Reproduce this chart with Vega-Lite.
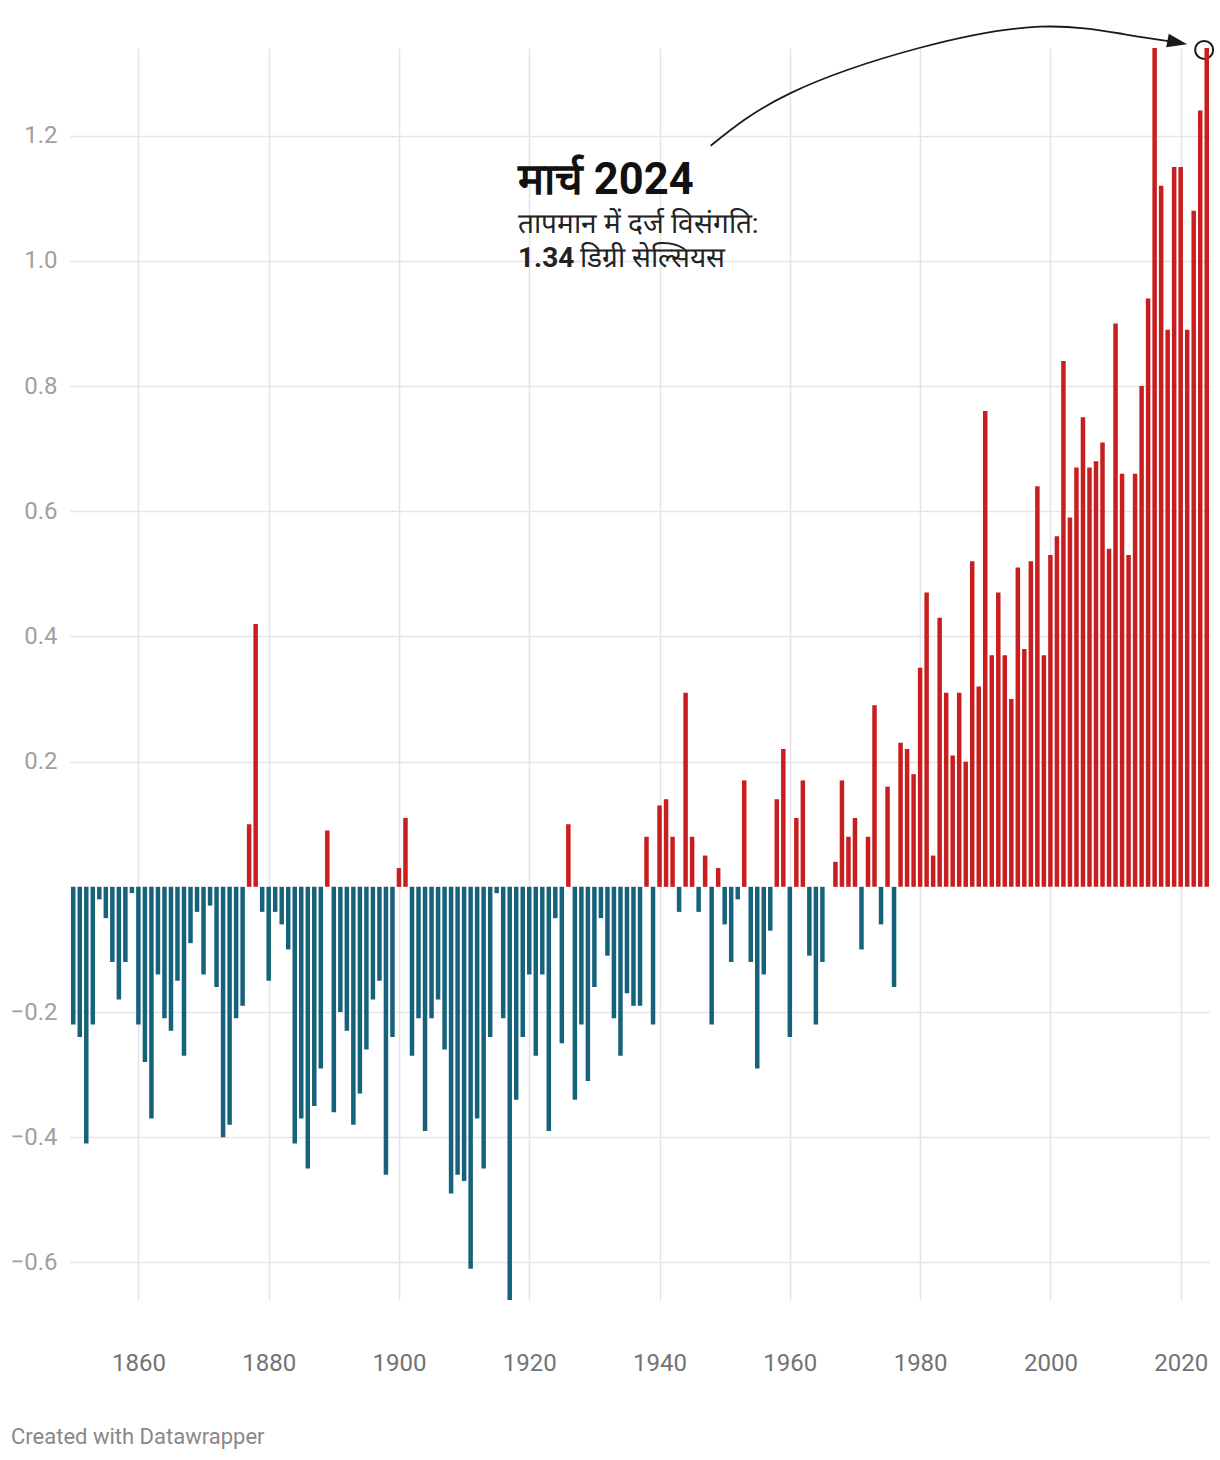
{
  "$schema": "https://vega.github.io/schema/vega-lite/v6.json",
  "width": 1140,
  "height": 1252,
  "autosize": {"type": "none"},
  "padding": {"left": 70, "top": 48, "right": 10, "bottom": 160},
  "background": "white",
  "config": {"font": "Roboto", "view": {"stroke": null}},
  "title": {
    "text": "Created with Datawrapper",
    "orient": "bottom",
    "anchor": "start",
    "frame": "group",
    "dx": -59,
    "offset": 52,
    "fontSize": 22,
    "fontWeight": "normal",
    "color": "#888888"
  },
  "datasets": {
    "temps": [
      {"year":1850,"value":-0.22},{"year":1851,"value":-0.24},{"year":1852,"value":-0.41},{"year":1853,"value":-0.22},{"year":1854,"value":-0.02},
      {"year":1855,"value":-0.05},{"year":1856,"value":-0.12},{"year":1857,"value":-0.18},{"year":1858,"value":-0.12},{"year":1859,"value":-0.01},
      {"year":1860,"value":-0.22},{"year":1861,"value":-0.28},{"year":1862,"value":-0.37},{"year":1863,"value":-0.14},{"year":1864,"value":-0.21},
      {"year":1865,"value":-0.23},{"year":1866,"value":-0.15},{"year":1867,"value":-0.27},{"year":1868,"value":-0.09},{"year":1869,"value":-0.04},
      {"year":1870,"value":-0.14},{"year":1871,"value":-0.03},{"year":1872,"value":-0.16},{"year":1873,"value":-0.40},{"year":1874,"value":-0.38},
      {"year":1875,"value":-0.21},{"year":1876,"value":-0.19},{"year":1877,"value":0.10},{"year":1878,"value":0.42},{"year":1879,"value":-0.04},
      {"year":1880,"value":-0.15},{"year":1881,"value":-0.04},{"year":1882,"value":-0.06},{"year":1883,"value":-0.10},{"year":1884,"value":-0.41},
      {"year":1885,"value":-0.37},{"year":1886,"value":-0.45},{"year":1887,"value":-0.35},{"year":1888,"value":-0.29},{"year":1889,"value":0.09},
      {"year":1890,"value":-0.36},{"year":1891,"value":-0.20},{"year":1892,"value":-0.23},{"year":1893,"value":-0.38},{"year":1894,"value":-0.33},
      {"year":1895,"value":-0.26},{"year":1896,"value":-0.18},{"year":1897,"value":-0.15},{"year":1898,"value":-0.46},{"year":1899,"value":-0.24},
      {"year":1900,"value":0.03},{"year":1901,"value":0.11},{"year":1902,"value":-0.27},{"year":1903,"value":-0.21},{"year":1904,"value":-0.39},
      {"year":1905,"value":-0.21},{"year":1906,"value":-0.18},{"year":1907,"value":-0.26},{"year":1908,"value":-0.49},{"year":1909,"value":-0.46},
      {"year":1910,"value":-0.47},{"year":1911,"value":-0.61},{"year":1912,"value":-0.37},{"year":1913,"value":-0.45},{"year":1914,"value":-0.24},
      {"year":1915,"value":-0.01},{"year":1916,"value":-0.21},{"year":1917,"value":-0.66},{"year":1918,"value":-0.34},{"year":1919,"value":-0.24},
      {"year":1920,"value":-0.14},{"year":1921,"value":-0.27},{"year":1922,"value":-0.14},{"year":1923,"value":-0.39},{"year":1924,"value":-0.05},
      {"year":1925,"value":-0.25},{"year":1926,"value":0.10},{"year":1927,"value":-0.34},{"year":1928,"value":-0.22},{"year":1929,"value":-0.31},
      {"year":1930,"value":-0.16},{"year":1931,"value":-0.05},{"year":1932,"value":-0.11},{"year":1933,"value":-0.21},{"year":1934,"value":-0.27},
      {"year":1935,"value":-0.17},{"year":1936,"value":-0.19},{"year":1937,"value":-0.19},{"year":1938,"value":0.08},{"year":1939,"value":-0.22},
      {"year":1940,"value":0.13},{"year":1941,"value":0.14},{"year":1942,"value":0.08},{"year":1943,"value":-0.04},{"year":1944,"value":0.31},
      {"year":1945,"value":0.08},{"year":1946,"value":-0.04},{"year":1947,"value":0.05},{"year":1948,"value":-0.22},{"year":1949,"value":0.03},
      {"year":1950,"value":-0.06},{"year":1951,"value":-0.12},{"year":1952,"value":-0.02},{"year":1953,"value":0.17},{"year":1954,"value":-0.12},
      {"year":1955,"value":-0.29},{"year":1956,"value":-0.14},{"year":1957,"value":-0.07},{"year":1958,"value":0.14},{"year":1959,"value":0.22},
      {"year":1960,"value":-0.24},{"year":1961,"value":0.11},{"year":1962,"value":0.17},{"year":1963,"value":-0.11},{"year":1964,"value":-0.22},
      {"year":1965,"value":-0.12},{"year":1966,"value":0.00},{"year":1967,"value":0.04},{"year":1968,"value":0.17},{"year":1969,"value":0.08},
      {"year":1970,"value":0.11},{"year":1971,"value":-0.10},{"year":1972,"value":0.08},{"year":1973,"value":0.29},{"year":1974,"value":-0.06},
      {"year":1975,"value":0.16},{"year":1976,"value":-0.16},{"year":1977,"value":0.23},{"year":1978,"value":0.22},{"year":1979,"value":0.18},
      {"year":1980,"value":0.35},{"year":1981,"value":0.47},{"year":1982,"value":0.05},{"year":1983,"value":0.43},{"year":1984,"value":0.31},
      {"year":1985,"value":0.21},{"year":1986,"value":0.31},{"year":1987,"value":0.20},{"year":1988,"value":0.52},{"year":1989,"value":0.32},
      {"year":1990,"value":0.76},{"year":1991,"value":0.37},{"year":1992,"value":0.47},{"year":1993,"value":0.37},{"year":1994,"value":0.30},
      {"year":1995,"value":0.51},{"year":1996,"value":0.38},{"year":1997,"value":0.52},{"year":1998,"value":0.64},{"year":1999,"value":0.37},
      {"year":2000,"value":0.53},{"year":2001,"value":0.56},{"year":2002,"value":0.84},{"year":2003,"value":0.59},{"year":2004,"value":0.67},
      {"year":2005,"value":0.75},{"year":2006,"value":0.67},{"year":2007,"value":0.68},{"year":2008,"value":0.71},{"year":2009,"value":0.54},
      {"year":2010,"value":0.90},{"year":2011,"value":0.66},{"year":2012,"value":0.53},{"year":2013,"value":0.66},{"year":2014,"value":0.80},
      {"year":2015,"value":0.94},{"year":2016,"value":1.34},{"year":2017,"value":1.12},{"year":2018,"value":0.89},{"year":2019,"value":1.15},
      {"year":2020,"value":1.15},{"year":2021,"value":0.89},{"year":2022,"value":1.08},{"year":2023,"value":1.24},{"year":2024,"value":1.34}
    ],
    "marker": [{"year": 2023.6, "value": 1.337}],
    "arrow": [
      {"year": 1947.85, "value": 1.1839},
      {"year": 1960.03, "value": 1.2676},
      {"year": 1979.98, "value": 1.3404},
      {"year": 1998.40, "value": 1.3740},
      {"year": 2011.19, "value": 1.3623},
      {"year": 2019.48, "value": 1.3490}
    ],
    "arrowhead": [{"year": 2019.48, "value": 1.3490}],
    "headline": [{"year": 1918.27, "value": 1.107, "text": "मार्च 2024"}],
    "subline": [
      {"year": 1918.27, "value": 1.0444, "text": "तापमान में दर्ज विसंगति:"},
      {"year": 1927.8, "value": 0.990, "text": "डिग्री सेल्सियस"}
    ],
    "boldnum": [{"year": 1918.27, "value": 0.990, "text": "1.34"}]
  },
  "layer": [
    {
      "data": {"name": "marker"},
      "mark": {"type": "point", "shape": "circle", "filled": false, "size": 324, "stroke": "#1a1a1a", "strokeWidth": 2, "opacity": 1},
      "encoding": {
        "x": {
          "field": "year", "type": "quantitative", "title": null,
          "scale": {"domain": [1849.5, 2024.5], "nice": false, "zero": false, "padding": 0},
          "axis": {
            "values": [1860, 1880, 1900, 1920, 1940, 1960, 1980, 2000, 2020],
            "format": "d",
            "domain": false, "ticks": false, "tickSize": 0,
            "labelPadding": 51,
            "labelFontSize": 24, "labelColor": "#737373",
            "grid": true, "gridColor": "#e5e5e5", "gridWidth": 1.6
          }
        },
        "y": {
          "field": "value", "type": "quantitative", "title": null,
          "scale": {"domain": [-0.66, 1.34], "nice": false, "zero": false},
          "axis": {
            "values": [-0.6, -0.4, -0.2, 0.2, 0.4, 0.6, 0.8, 1.0, 1.2],
            "format": ".1f",
            "domain": false, "ticks": false, "tickSize": 0,
            "labelPadding": 13,
            "labelFontSize": 24, "labelColor": "#a0a0a0",
            "grid": true, "gridColor": "#e5e5e5", "gridWidth": 1.6
          }
        }
      }
    },
    {
      "data": {"name": "temps"},
      "mark": {"type": "bar", "width": 4.5},
      "encoding": {
        "x": {"field": "year", "type": "quantitative", "title": null},
        "y": {"field": "value", "type": "quantitative", "title": null},
        "y2": {"datum": 0},
        "color": {"condition": {"test": "datum.value > 0", "value": "#c91e1f"}, "value": "#17627b"}
      }
    },
    {
      "mark": {"type": "rule", "color": "#1a1a1a", "strokeWidth": 2},
      "encoding": {"y": {"datum": 0}}
    },
    {
      "data": {"name": "arrow"},
      "mark": {"type": "line", "interpolate": "natural", "color": "#1a1a1a", "strokeWidth": 1.8},
      "encoding": {
        "x": {"field": "year", "type": "quantitative", "title": null},
        "y": {"field": "value", "type": "quantitative", "title": null}
      }
    },
    {
      "data": {"name": "arrowhead"},
      "mark": {"type": "point", "shape": "M-1,-0.68L1,0L-1,0.68Z", "filled": true, "size": 400, "color": "#1a1a1a", "opacity": 1, "angle": 11},
      "encoding": {
        "x": {"field": "year", "type": "quantitative", "title": null},
        "y": {"field": "value", "type": "quantitative", "title": null}
      }
    },
    {
      "data": {"name": "headline"},
      "mark": {"type": "text", "align": "left", "baseline": "alphabetic", "fontSize": 43.5, "fontWeight": "bold", "color": "#111111"},
      "encoding": {
        "x": {"field": "year", "type": "quantitative", "title": null},
        "y": {"field": "value", "type": "quantitative", "title": null},
        "text": {"field": "text"}
      }
    },
    {
      "data": {"name": "subline"},
      "mark": {"type": "text", "align": "left", "baseline": "alphabetic", "fontSize": 28, "color": "#222222"},
      "encoding": {
        "x": {"field": "year", "type": "quantitative", "title": null},
        "y": {"field": "value", "type": "quantitative", "title": null},
        "text": {"field": "text"}
      }
    },
    {
      "data": {"name": "boldnum"},
      "mark": {"type": "text", "align": "left", "baseline": "alphabetic", "fontSize": 28, "fontWeight": "bold", "color": "#222222"},
      "encoding": {
        "x": {"field": "year", "type": "quantitative", "title": null},
        "y": {"field": "value", "type": "quantitative", "title": null},
        "text": {"field": "text"}
      }
    }
  ]
}
